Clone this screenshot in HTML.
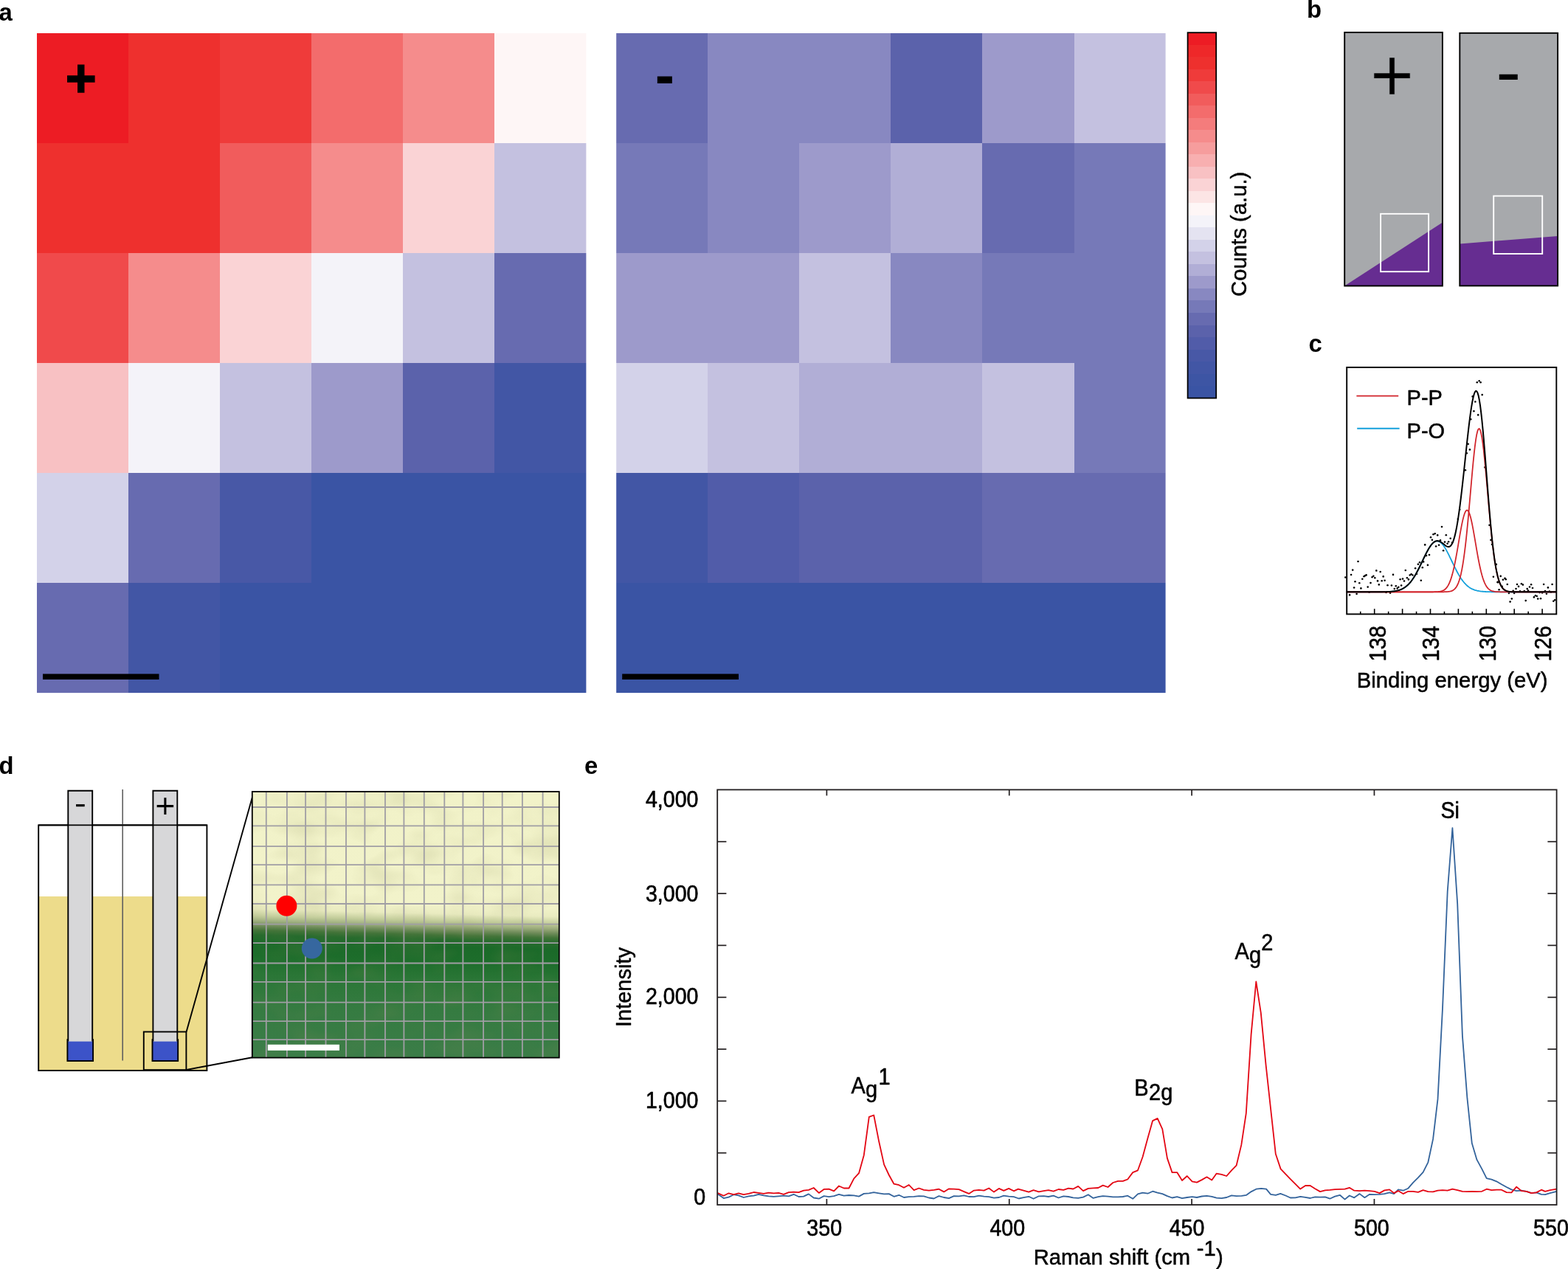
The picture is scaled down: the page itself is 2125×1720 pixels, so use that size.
<!DOCTYPE html>
<html lang="en">
<head>
<meta charset="utf-8">
<title>Figure</title>
<style>
html,body{margin:0;padding:0;background:#fff;}
body{width:2125px;height:1720px;overflow:hidden;font-family:"Liberation Sans", sans-serif;}
svg{display:block;}
text{white-space:pre;}
</style>
</head>
<body>
<svg width="2125" height="1720" viewBox="0 0 2125 1720">
<rect x="0" y="0" width="2125" height="1720" fill="#fff"/>
<g shape-rendering="crispEdges">
<rect x="50.00" y="44.80" width="124.67" height="149.65" fill="#ED1C24"/>
<rect x="174.07" y="44.80" width="124.67" height="149.65" fill="#EE302E"/>
<rect x="298.13" y="44.80" width="124.67" height="149.65" fill="#EF3B3A"/>
<rect x="422.20" y="44.80" width="124.67" height="149.65" fill="#F36C6C"/>
<rect x="546.27" y="44.80" width="124.67" height="149.65" fill="#F58C8C"/>
<rect x="670.33" y="44.80" width="124.67" height="149.65" fill="#FEF6F6"/>
<rect x="50.00" y="193.85" width="124.67" height="149.65" fill="#EE302E"/>
<rect x="174.07" y="193.85" width="124.67" height="149.65" fill="#EE302E"/>
<rect x="298.13" y="193.85" width="124.67" height="149.65" fill="#F15C5C"/>
<rect x="422.20" y="193.85" width="124.67" height="149.65" fill="#F58C8C"/>
<rect x="546.27" y="193.85" width="124.67" height="149.65" fill="#FAD3D5"/>
<rect x="670.33" y="193.85" width="124.67" height="149.65" fill="#C4C1E0"/>
<rect x="50.00" y="342.90" width="124.67" height="149.65" fill="#F04A4B"/>
<rect x="174.07" y="342.90" width="124.67" height="149.65" fill="#F58C8C"/>
<rect x="298.13" y="342.90" width="124.67" height="149.65" fill="#FAD3D5"/>
<rect x="422.20" y="342.90" width="124.67" height="149.65" fill="#F4F3F9"/>
<rect x="546.27" y="342.90" width="124.67" height="149.65" fill="#C4C1E0"/>
<rect x="670.33" y="342.90" width="124.67" height="149.65" fill="#676BB0"/>
<rect x="50.00" y="491.95" width="124.67" height="149.65" fill="#F8C1C3"/>
<rect x="174.07" y="491.95" width="124.67" height="149.65" fill="#F4F3F9"/>
<rect x="298.13" y="491.95" width="124.67" height="149.65" fill="#C4C1E0"/>
<rect x="422.20" y="491.95" width="124.67" height="149.65" fill="#9D9ACB"/>
<rect x="546.27" y="491.95" width="124.67" height="149.65" fill="#5B62AB"/>
<rect x="670.33" y="491.95" width="124.67" height="149.65" fill="#4256A5"/>
<rect x="50.00" y="641.00" width="124.67" height="149.65" fill="#D3D2E9"/>
<rect x="174.07" y="641.00" width="124.67" height="149.65" fill="#676BB0"/>
<rect x="298.13" y="641.00" width="124.67" height="149.65" fill="#4858A6"/>
<rect x="422.20" y="641.00" width="124.67" height="149.65" fill="#3A54A4"/>
<rect x="546.27" y="641.00" width="124.67" height="149.65" fill="#3A54A4"/>
<rect x="670.33" y="641.00" width="124.67" height="149.65" fill="#3A54A4"/>
<rect x="50.00" y="790.05" width="124.67" height="149.65" fill="#676BB0"/>
<rect x="174.07" y="790.05" width="124.67" height="149.65" fill="#4256A5"/>
<rect x="298.13" y="790.05" width="124.67" height="149.65" fill="#3A54A4"/>
<rect x="422.20" y="790.05" width="124.67" height="149.65" fill="#3A54A4"/>
<rect x="546.27" y="790.05" width="124.67" height="149.65" fill="#3A54A4"/>
<rect x="670.33" y="790.05" width="124.67" height="149.65" fill="#3A54A4"/>
</g>
<g shape-rendering="crispEdges">
<rect x="835.20" y="44.80" width="124.67" height="149.65" fill="#676BB0"/>
<rect x="959.27" y="44.80" width="124.67" height="149.65" fill="#8888C1"/>
<rect x="1083.33" y="44.80" width="124.67" height="149.65" fill="#8888C1"/>
<rect x="1207.40" y="44.80" width="124.67" height="149.65" fill="#5B62AB"/>
<rect x="1331.47" y="44.80" width="124.67" height="149.65" fill="#9D9ACB"/>
<rect x="1455.53" y="44.80" width="124.67" height="149.65" fill="#C4C1E0"/>
<rect x="835.20" y="193.85" width="124.67" height="149.65" fill="#7679B8"/>
<rect x="959.27" y="193.85" width="124.67" height="149.65" fill="#8888C1"/>
<rect x="1083.33" y="193.85" width="124.67" height="149.65" fill="#9D9ACB"/>
<rect x="1207.40" y="193.85" width="124.67" height="149.65" fill="#B1AED6"/>
<rect x="1331.47" y="193.85" width="124.67" height="149.65" fill="#676BB0"/>
<rect x="1455.53" y="193.85" width="124.67" height="149.65" fill="#7679B8"/>
<rect x="835.20" y="342.90" width="124.67" height="149.65" fill="#9D9ACB"/>
<rect x="959.27" y="342.90" width="124.67" height="149.65" fill="#9D9ACB"/>
<rect x="1083.33" y="342.90" width="124.67" height="149.65" fill="#C4C1E0"/>
<rect x="1207.40" y="342.90" width="124.67" height="149.65" fill="#8888C1"/>
<rect x="1331.47" y="342.90" width="124.67" height="149.65" fill="#7679B8"/>
<rect x="1455.53" y="342.90" width="124.67" height="149.65" fill="#7679B8"/>
<rect x="835.20" y="491.95" width="124.67" height="149.65" fill="#D3D2E9"/>
<rect x="959.27" y="491.95" width="124.67" height="149.65" fill="#C4C1E0"/>
<rect x="1083.33" y="491.95" width="124.67" height="149.65" fill="#B1AED6"/>
<rect x="1207.40" y="491.95" width="124.67" height="149.65" fill="#B1AED6"/>
<rect x="1331.47" y="491.95" width="124.67" height="149.65" fill="#C4C1E0"/>
<rect x="1455.53" y="491.95" width="124.67" height="149.65" fill="#7679B8"/>
<rect x="835.20" y="641.00" width="124.67" height="149.65" fill="#4256A5"/>
<rect x="959.27" y="641.00" width="124.67" height="149.65" fill="#515CA9"/>
<rect x="1083.33" y="641.00" width="124.67" height="149.65" fill="#5B62AB"/>
<rect x="1207.40" y="641.00" width="124.67" height="149.65" fill="#5B62AB"/>
<rect x="1331.47" y="641.00" width="124.67" height="149.65" fill="#676BB0"/>
<rect x="1455.53" y="641.00" width="124.67" height="149.65" fill="#676BB0"/>
<rect x="835.20" y="790.05" width="124.67" height="149.65" fill="#3A54A4"/>
<rect x="959.27" y="790.05" width="124.67" height="149.65" fill="#3A54A4"/>
<rect x="1083.33" y="790.05" width="124.67" height="149.65" fill="#3A54A4"/>
<rect x="1207.40" y="790.05" width="124.67" height="149.65" fill="#3A54A4"/>
<rect x="1331.47" y="790.05" width="124.67" height="149.65" fill="#3A54A4"/>
<rect x="1455.53" y="790.05" width="124.67" height="149.65" fill="#3A54A4"/>
</g>
<rect x="794.4" y="40" width="40.8" height="905" fill="#fff"/>
<rect x="1579.6" y="40" width="28" height="905" fill="#fff"/>
<rect x="40" y="939.1" width="1560" height="8" fill="#fff"/>
<rect x="58.0" y="913.4" width="157.5" height="7.6" fill="#000"/>
<rect x="843.2" y="913.4" width="157.8" height="7.6" fill="#000"/>
<text x="109.7" y="131.2" font-family='"Liberation Sans", sans-serif' font-weight="bold" font-size="72" text-anchor="middle" fill="#000" stroke="#000" stroke-width="1.5">+</text>
<text x="901.0" y="128.6" font-family='"Liberation Sans", sans-serif' font-weight="bold" font-size="79" text-anchor="middle" fill="#000">-</text>
<g shape-rendering="crispEdges">
<rect x="1609.6" y="44.20" width="38.60" height="17.11" fill="#ED1C24"/>
<rect x="1609.6" y="60.71" width="38.60" height="17.11" fill="#EE2829"/>
<rect x="1609.6" y="77.23" width="38.60" height="17.11" fill="#EE302E"/>
<rect x="1609.6" y="93.74" width="38.60" height="17.11" fill="#EF3B3A"/>
<rect x="1609.6" y="110.25" width="38.60" height="17.11" fill="#F04A4B"/>
<rect x="1609.6" y="126.77" width="38.60" height="17.11" fill="#F15C5C"/>
<rect x="1609.6" y="143.28" width="38.60" height="17.11" fill="#F36C6C"/>
<rect x="1609.6" y="159.79" width="38.60" height="17.11" fill="#F47C7C"/>
<rect x="1609.6" y="176.31" width="38.60" height="17.11" fill="#F58C8C"/>
<rect x="1609.6" y="192.82" width="38.60" height="17.11" fill="#F69D9D"/>
<rect x="1609.6" y="209.33" width="38.60" height="17.11" fill="#F8AFB0"/>
<rect x="1609.6" y="225.85" width="38.60" height="17.11" fill="#F8C1C3"/>
<rect x="1609.6" y="242.36" width="38.60" height="17.11" fill="#FAD3D5"/>
<rect x="1609.6" y="258.87" width="38.60" height="17.11" fill="#FCE5E5"/>
<rect x="1609.6" y="275.39" width="38.60" height="17.11" fill="#FEF6F6"/>
<rect x="1609.6" y="291.90" width="38.60" height="17.11" fill="#F4F3F9"/>
<rect x="1609.6" y="308.41" width="38.60" height="17.11" fill="#E4E3F1"/>
<rect x="1609.6" y="324.93" width="38.60" height="17.11" fill="#D3D2E9"/>
<rect x="1609.6" y="341.44" width="38.60" height="17.11" fill="#C4C1E0"/>
<rect x="1609.6" y="357.95" width="38.60" height="17.11" fill="#B1AED6"/>
<rect x="1609.6" y="374.47" width="38.60" height="17.11" fill="#9D9ACB"/>
<rect x="1609.6" y="390.98" width="38.60" height="17.11" fill="#8888C1"/>
<rect x="1609.6" y="407.49" width="38.60" height="17.11" fill="#7679B8"/>
<rect x="1609.6" y="424.01" width="38.60" height="17.11" fill="#676BB0"/>
<rect x="1609.6" y="440.52" width="38.60" height="17.11" fill="#5B62AB"/>
<rect x="1609.6" y="457.03" width="38.60" height="17.11" fill="#515CA9"/>
<rect x="1609.6" y="473.55" width="38.60" height="17.11" fill="#4858A6"/>
<rect x="1609.6" y="490.06" width="38.60" height="17.11" fill="#4256A5"/>
<rect x="1609.6" y="506.57" width="38.60" height="17.11" fill="#3D55A4"/>
<rect x="1609.6" y="523.09" width="38.60" height="17.11" fill="#3A54A4"/>
</g>
<rect x="1609.6" y="44.2" width="38.60" height="495.40" fill="none" stroke="#000" stroke-width="1.8"/>
<text transform="translate(1688.9,317.3) rotate(-90) scale(1.0,1.0)" font-family='"Liberation Sans", sans-serif' font-size="29.3" text-anchor="middle" fill="#000" stroke="#000" stroke-width="0.5" stroke-linejoin="round">Counts (a.u.)</text>
<text x="-1.4" y="27.6" font-family='"Liberation Sans", sans-serif' font-weight="bold" font-size="32.8" fill="#000">a</text>
<text x="1771.0" y="24.2" font-family='"Liberation Sans", sans-serif' font-weight="bold" font-size="32.8" fill="#000">b</text>
<text x="1773.5" y="476.5" font-family='"Liberation Sans", sans-serif' font-weight="bold" font-size="32.8" fill="#000">c</text>
<text x="-1.4" y="1049.0" font-family='"Liberation Sans", sans-serif' font-weight="bold" font-size="32.8" fill="#000">d</text>
<text x="792.0" y="1049.0" font-family='"Liberation Sans", sans-serif' font-weight="bold" font-size="32.8" fill="#000">e</text>
<rect x="1822.2" y="43.9" width="132.7" height="343.6" fill="#A7A9AC"/>
<polygon points="1822.2,387.5 1954.9,301.4 1954.9,387.5" fill="#662D91"/>
<rect x="1822.2" y="43.9" width="132.7" height="343.6" fill="none" stroke="#000" stroke-width="1.9"/>
<rect x="1871.1" y="289.8" width="65.0" height="78.4" fill="none" stroke="#fff" stroke-width="1.9"/>
<rect x="1978.3" y="44.8" width="132.8" height="342.6" fill="#A7A9AC"/>
<polygon points="1978.3,330.5 2111.1,319.9 2111.1,387.4 1978.3,387.4" fill="#662D91"/>
<rect x="1978.3" y="44.8" width="132.8" height="342.6" fill="none" stroke="#000" stroke-width="1.9"/>
<rect x="2024.2" y="265.6" width="66.0" height="78.4" fill="none" stroke="#fff" stroke-width="1.9"/>
<text x="1886.6" y="137.4" font-family='"Liberation Sans", sans-serif' font-size="101.2" text-anchor="middle" fill="#000" stroke="#A7A9AC" stroke-width="0.7" stroke-linejoin="miter">+</text>
<text transform="translate(2044.2,128.6) scale(1.1,1)" x="0" y="0" font-family='"Liberation Sans", sans-serif' font-size="93" text-anchor="middle" fill="#000">-</text>
<line x1="2090.10" y1="832.4" x2="2090.10" y2="825.1999999999999" stroke="#000" stroke-width="1.6"/>
<line x1="2071.15" y1="832.4" x2="2071.15" y2="828.8" stroke="#000" stroke-width="1.6"/>
<line x1="2052.20" y1="832.4" x2="2052.20" y2="825.1999999999999" stroke="#000" stroke-width="1.6"/>
<line x1="2033.25" y1="832.4" x2="2033.25" y2="828.8" stroke="#000" stroke-width="1.6"/>
<line x1="2014.30" y1="832.4" x2="2014.30" y2="825.1999999999999" stroke="#000" stroke-width="1.6"/>
<line x1="1995.35" y1="832.4" x2="1995.35" y2="828.8" stroke="#000" stroke-width="1.6"/>
<line x1="1976.40" y1="832.4" x2="1976.40" y2="825.1999999999999" stroke="#000" stroke-width="1.6"/>
<line x1="1957.45" y1="832.4" x2="1957.45" y2="828.8" stroke="#000" stroke-width="1.6"/>
<line x1="1938.50" y1="832.4" x2="1938.50" y2="825.1999999999999" stroke="#000" stroke-width="1.6"/>
<line x1="1919.55" y1="832.4" x2="1919.55" y2="828.8" stroke="#000" stroke-width="1.6"/>
<line x1="1900.60" y1="832.4" x2="1900.60" y2="825.1999999999999" stroke="#000" stroke-width="1.6"/>
<line x1="1881.65" y1="832.4" x2="1881.65" y2="828.8" stroke="#000" stroke-width="1.6"/>
<line x1="1862.70" y1="832.4" x2="1862.70" y2="825.1999999999999" stroke="#000" stroke-width="1.6"/>
<line x1="1843.75" y1="832.4" x2="1843.75" y2="828.8" stroke="#000" stroke-width="1.6"/>
<g fill="#000">
<circle cx="1823.3" cy="782.5" r="1.3"/>
<circle cx="1829.1" cy="806.4" r="1.3"/>
<circle cx="1831.1" cy="779.0" r="1.3"/>
<circle cx="1833.2" cy="772.6" r="1.3"/>
<circle cx="1835.1" cy="796.5" r="1.3"/>
<circle cx="1836.5" cy="788.3" r="1.3"/>
<circle cx="1838.6" cy="804.9" r="1.3"/>
<circle cx="1840.5" cy="761.0" r="1.3"/>
<circle cx="1842.3" cy="790.3" r="1.3"/>
<circle cx="1844.4" cy="797.4" r="1.3"/>
<circle cx="1846.3" cy="784.8" r="1.3"/>
<circle cx="1848.5" cy="781.2" r="1.3"/>
<circle cx="1850.0" cy="780.2" r="1.3"/>
<circle cx="1851.6" cy="779.4" r="1.3"/>
<circle cx="1853.7" cy="795.6" r="1.3"/>
<circle cx="1855.6" cy="802.7" r="1.3"/>
<circle cx="1857.5" cy="790.1" r="1.3"/>
<circle cx="1859.6" cy="782.2" r="1.3"/>
<circle cx="1861.3" cy="780.7" r="1.3"/>
<circle cx="1863.3" cy="783.2" r="1.3"/>
<circle cx="1865.3" cy="773.4" r="1.3"/>
<circle cx="1867.0" cy="787.4" r="1.3"/>
<circle cx="1868.8" cy="792.4" r="1.3"/>
<circle cx="1870.7" cy="775.0" r="1.3"/>
<circle cx="1872.7" cy="787.3" r="1.3"/>
<circle cx="1874.7" cy="781.4" r="1.3"/>
<circle cx="1876.6" cy="786.7" r="1.3"/>
<circle cx="1878.6" cy="803.0" r="1.3"/>
<circle cx="1880.5" cy="793.2" r="1.3"/>
<circle cx="1884.1" cy="803.8" r="1.3"/>
<circle cx="1885.9" cy="793.5" r="1.3"/>
<circle cx="1888.0" cy="778.9" r="1.3"/>
<circle cx="1889.8" cy="798.1" r="1.3"/>
<circle cx="1891.8" cy="794.3" r="1.3"/>
<circle cx="1893.7" cy="797.4" r="1.3"/>
<circle cx="1895.3" cy="795.8" r="1.3"/>
<circle cx="1897.6" cy="785.2" r="1.3"/>
<circle cx="1899.1" cy="793.5" r="1.3"/>
<circle cx="1901.0" cy="784.6" r="1.3"/>
<circle cx="1903.0" cy="787.5" r="1.3"/>
<circle cx="1904.8" cy="773.0" r="1.3"/>
<circle cx="1906.9" cy="783.2" r="1.3"/>
<circle cx="1908.9" cy="785.4" r="1.3"/>
<circle cx="1910.7" cy="779.5" r="1.3"/>
<circle cx="1912.6" cy="778.3" r="1.3"/>
<circle cx="1914.4" cy="779.5" r="1.3"/>
<circle cx="1918.1" cy="770.2" r="1.3"/>
<circle cx="1919.9" cy="777.9" r="1.3"/>
<circle cx="1921.9" cy="764.7" r="1.3"/>
<circle cx="1924.0" cy="762.3" r="1.3"/>
<circle cx="1925.8" cy="786.7" r="1.3"/>
<circle cx="1927.8" cy="769.2" r="1.3"/>
<circle cx="1929.1" cy="761.4" r="1.3"/>
<circle cx="1931.2" cy="738.4" r="1.3"/>
<circle cx="1933.0" cy="753.1" r="1.3"/>
<circle cx="1934.9" cy="765.9" r="1.3"/>
<circle cx="1937.0" cy="752.1" r="1.3"/>
<circle cx="1939.0" cy="728.3" r="1.3"/>
<circle cx="1940.9" cy="731.8" r="1.3"/>
<circle cx="1942.5" cy="724.2" r="1.3"/>
<circle cx="1944.7" cy="723.2" r="1.3"/>
<circle cx="1946.1" cy="740.5" r="1.3"/>
<circle cx="1948.2" cy="725.4" r="1.3"/>
<circle cx="1950.1" cy="738.7" r="1.3"/>
<circle cx="1952.0" cy="732.3" r="1.3"/>
<circle cx="1954.0" cy="714.0" r="1.3"/>
<circle cx="1956.1" cy="746.2" r="1.3"/>
<circle cx="1958.0" cy="734.6" r="1.3"/>
<circle cx="1959.8" cy="725.2" r="1.3"/>
<circle cx="1961.6" cy="736.8" r="1.3"/>
<circle cx="1963.1" cy="734.2" r="1.3"/>
<circle cx="1965.7" cy="729.8" r="1.3"/>
<circle cx="1968.2" cy="735.2" r="1.3"/>
<circle cx="1975.9" cy="703.5" r="1.3"/>
<circle cx="1978.2" cy="690.6" r="1.3"/>
<circle cx="1985.9" cy="637.3" r="1.3"/>
<circle cx="1987.8" cy="614.2" r="1.3"/>
<circle cx="1989.7" cy="601.7" r="1.3"/>
<circle cx="1991.9" cy="609.4" r="1.3"/>
<circle cx="1993.2" cy="568.2" r="1.3"/>
<circle cx="1995.7" cy="537.4" r="1.3"/>
<circle cx="1997.4" cy="557.2" r="1.3"/>
<circle cx="1999.3" cy="544.5" r="1.3"/>
<circle cx="2001.8" cy="518.2" r="1.3"/>
<circle cx="2003.2" cy="562.4" r="1.3"/>
<circle cx="2004.7" cy="516.3" r="1.3"/>
<circle cx="2006.6" cy="518.2" r="1.3"/>
<circle cx="2008.7" cy="535.1" r="1.3"/>
<circle cx="2012.4" cy="633.4" r="1.3"/>
<circle cx="2018.5" cy="711.7" r="1.3"/>
<circle cx="2020.5" cy="731.9" r="1.3"/>
<circle cx="2022.0" cy="738.0" r="1.3"/>
<circle cx="2023.9" cy="781.8" r="1.3"/>
<circle cx="2027.8" cy="764.9" r="1.3"/>
<circle cx="2029.7" cy="788.9" r="1.3"/>
<circle cx="2029.8" cy="789.3" r="1.3"/>
<circle cx="2031.6" cy="799.3" r="1.3"/>
<circle cx="2033.7" cy="780.9" r="1.3"/>
<circle cx="2035.7" cy="794.9" r="1.3"/>
<circle cx="2036.9" cy="785.8" r="1.3"/>
<circle cx="2039.5" cy="783.9" r="1.3"/>
<circle cx="2040.8" cy="785.2" r="1.3"/>
<circle cx="2042.8" cy="792.0" r="1.3"/>
<circle cx="2044.9" cy="804.0" r="1.3"/>
<circle cx="2046.6" cy="815.6" r="1.3"/>
<circle cx="2048.8" cy="811.5" r="1.3"/>
<circle cx="2050.7" cy="800.8" r="1.3"/>
<circle cx="2052.1" cy="804.0" r="1.3"/>
<circle cx="2054.5" cy="798.0" r="1.3"/>
<circle cx="2056.0" cy="792.0" r="1.3"/>
<circle cx="2058.0" cy="794.9" r="1.3"/>
<circle cx="2060.0" cy="801.3" r="1.3"/>
<circle cx="2061.9" cy="791.2" r="1.3"/>
<circle cx="2063.9" cy="792.6" r="1.3"/>
<circle cx="2065.8" cy="801.0" r="1.3"/>
<circle cx="2067.7" cy="814.1" r="1.3"/>
<circle cx="2069.7" cy="798.1" r="1.3"/>
<circle cx="2071.0" cy="800.5" r="1.3"/>
<circle cx="2073.0" cy="795.5" r="1.3"/>
<circle cx="2075.1" cy="792.3" r="1.3"/>
<circle cx="2077.0" cy="797.0" r="1.3"/>
<circle cx="2078.9" cy="809.4" r="1.3"/>
<circle cx="2080.9" cy="807.2" r="1.3"/>
<circle cx="2082.8" cy="808.0" r="1.3"/>
<circle cx="2084.2" cy="811.6" r="1.3"/>
<circle cx="2086.6" cy="803.1" r="1.3"/>
<circle cx="2088.0" cy="811.2" r="1.3"/>
<circle cx="2090.1" cy="803.4" r="1.3"/>
<circle cx="2092.1" cy="792.0" r="1.3"/>
<circle cx="2094.0" cy="801.0" r="1.3"/>
<circle cx="2095.9" cy="804.7" r="1.3"/>
<circle cx="2097.9" cy="796.4" r="1.3"/>
<circle cx="2099.9" cy="801.6" r="1.3"/>
<circle cx="2101.9" cy="802.5" r="1.3"/>
<circle cx="2103.6" cy="792.0" r="1.3"/>
<circle cx="2105.3" cy="814.7" r="1.3"/>
<circle cx="2107.2" cy="813.3" r="1.3"/>
</g>
<path d="M1824.80,802.30 L1825.98,802.30 L1827.17,802.30 L1828.35,802.30 L1829.54,802.30 L1830.72,802.30 L1831.91,802.30 L1833.09,802.30 L1834.28,802.30 L1835.46,802.30 L1836.64,802.30 L1837.83,802.30 L1839.01,802.30 L1840.20,802.30 L1841.38,802.30 L1842.57,802.30 L1843.75,802.30 L1844.93,802.30 L1846.12,802.30 L1847.30,802.30 L1848.49,802.30 L1849.67,802.30 L1850.86,802.30 L1852.04,802.30 L1853.23,802.30 L1854.41,802.30 L1855.59,802.30 L1856.78,802.30 L1857.96,802.30 L1859.15,802.30 L1860.33,802.30 L1861.52,802.29 L1862.70,802.29 L1863.88,802.29 L1865.07,802.29 L1866.25,802.28 L1867.44,802.28 L1868.62,802.27 L1869.81,802.27 L1870.99,802.26 L1872.17,802.25 L1873.36,802.23 L1874.54,802.22 L1875.73,802.20 L1876.91,802.17 L1878.10,802.15 L1879.28,802.11 L1880.47,802.07 L1881.65,802.02 L1882.83,801.95 L1884.02,801.88 L1885.20,801.79 L1886.39,801.69 L1887.57,801.57 L1888.76,801.43 L1889.94,801.26 L1891.12,801.07 L1892.31,800.85 L1893.49,800.59 L1894.68,800.29 L1895.86,799.95 L1897.05,799.56 L1898.23,799.12 L1899.42,798.62 L1900.60,798.06 L1901.78,797.43 L1902.97,796.72 L1904.15,795.94 L1905.34,795.07 L1906.52,794.11 L1907.71,793.05 L1908.89,791.90 L1910.08,790.64 L1911.26,789.28 L1912.44,787.81 L1913.63,786.23 L1914.81,784.54 L1916.00,782.75 L1917.18,780.85 L1918.37,778.85 L1919.55,776.75 L1920.73,774.56 L1921.92,772.29 L1923.10,769.95 L1924.29,767.56 L1925.47,765.11 L1926.66,762.64 L1927.84,760.15 L1929.03,757.66 L1930.21,755.20 L1931.39,752.77 L1932.58,750.40 L1933.76,748.11 L1934.95,745.92 L1936.13,743.85 L1937.32,741.92 L1938.50,740.15 L1939.68,738.54 L1940.87,737.13 L1942.05,735.93 L1943.24,734.94 L1944.42,734.17 L1945.61,733.64 L1946.79,733.36 L1947.98,733.31 L1949.16,733.51 L1950.34,733.95 L1951.53,734.63 L1952.71,735.54 L1953.90,736.67 L1955.08,738.01 L1956.27,739.55 L1957.45,741.26 L1958.63,743.14 L1959.82,745.16 L1961.00,747.31 L1962.19,749.57 L1963.37,751.91 L1964.56,754.32 L1965.74,756.77 L1966.92,759.25 L1968.11,761.74 L1969.29,764.23 L1970.48,766.68 L1971.66,769.10 L1972.85,771.46 L1974.03,773.75 L1975.22,775.97 L1976.40,778.10 L1977.58,780.14 L1978.77,782.08 L1979.95,783.91 L1981.14,785.64 L1982.32,787.25 L1983.51,788.76 L1984.69,790.16 L1985.88,791.46 L1987.06,792.65 L1988.24,793.74 L1989.43,794.73 L1990.61,795.63 L1991.80,796.45 L1992.98,797.18 L1994.17,797.84 L1995.35,798.43 L1996.53,798.95 L1997.72,799.41 L1998.90,799.82 L2000.09,800.17 L2001.27,800.49 L2002.46,800.76 L2003.64,800.99 L2004.83,801.20 L2006.01,801.37 L2007.19,801.52 L2008.38,801.65 L2009.56,801.76 L2010.75,801.85 L2011.93,801.93 L2013.12,801.99 L2014.30,802.05 L2015.48,802.10 L2016.67,802.13 L2017.85,802.16 L2019.04,802.19 L2020.22,802.21 L2021.41,802.23 L2022.59,802.24 L2023.78,802.25 L2024.96,802.26 L2026.14,802.27 L2027.33,802.28 L2028.51,802.28 L2029.70,802.29 L2030.88,802.29 L2032.07,802.29 L2033.25,802.29 L2034.43,802.29 L2035.62,802.30 L2036.80,802.30 L2037.99,802.30 L2039.17,802.30 L2040.36,802.30 L2041.54,802.30 L2042.73,802.30 L2043.91,802.30 L2045.09,802.30 L2046.28,802.30 L2047.46,802.30 L2048.65,802.30 L2049.83,802.30 L2051.02,802.30 L2052.20,802.30 L2053.38,802.30 L2054.57,802.30 L2055.75,802.30 L2056.94,802.30 L2058.12,802.30 L2059.31,802.30 L2060.49,802.30 L2061.68,802.30 L2062.86,802.30 L2064.04,802.30 L2065.23,802.30 L2066.41,802.30 L2067.60,802.30 L2068.78,802.30 L2069.97,802.30 L2071.15,802.30 L2072.33,802.30 L2073.52,802.30 L2074.70,802.30 L2075.89,802.30 L2077.07,802.30 L2078.26,802.30 L2079.44,802.30 L2080.62,802.30 L2081.81,802.30 L2082.99,802.30 L2084.18,802.30 L2085.36,802.30 L2086.55,802.30 L2087.73,802.30 L2088.92,802.30 L2090.10,802.30 L2091.28,802.30 L2092.47,802.30 L2093.65,802.30 L2094.84,802.30 L2096.02,802.30 L2097.21,802.30 L2098.39,802.30 L2099.57,802.30 L2100.76,802.30 L2101.94,802.30 L2103.13,802.30 L2104.31,802.30 L2105.50,802.30 L2106.68,802.30 L2107.87,802.30 L2109.05,802.30" fill="none" stroke="#14A0DB" stroke-width="1.8"/>
<path d="M1824.80,802.30 L1825.98,802.30 L1827.17,802.30 L1828.35,802.30 L1829.54,802.30 L1830.72,802.30 L1831.91,802.30 L1833.09,802.30 L1834.28,802.30 L1835.46,802.30 L1836.64,802.30 L1837.83,802.30 L1839.01,802.30 L1840.20,802.30 L1841.38,802.30 L1842.57,802.30 L1843.75,802.30 L1844.93,802.30 L1846.12,802.30 L1847.30,802.30 L1848.49,802.30 L1849.67,802.30 L1850.86,802.30 L1852.04,802.30 L1853.23,802.30 L1854.41,802.30 L1855.59,802.30 L1856.78,802.30 L1857.96,802.30 L1859.15,802.30 L1860.33,802.30 L1861.52,802.30 L1862.70,802.30 L1863.88,802.30 L1865.07,802.30 L1866.25,802.30 L1867.44,802.30 L1868.62,802.30 L1869.81,802.30 L1870.99,802.30 L1872.17,802.30 L1873.36,802.30 L1874.54,802.30 L1875.73,802.30 L1876.91,802.30 L1878.10,802.30 L1879.28,802.30 L1880.47,802.30 L1881.65,802.30 L1882.83,802.30 L1884.02,802.30 L1885.20,802.30 L1886.39,802.30 L1887.57,802.30 L1888.76,802.30 L1889.94,802.30 L1891.12,802.30 L1892.31,802.30 L1893.49,802.30 L1894.68,802.30 L1895.86,802.30 L1897.05,802.30 L1898.23,802.30 L1899.42,802.30 L1900.60,802.30 L1901.78,802.30 L1902.97,802.30 L1904.15,802.30 L1905.34,802.30 L1906.52,802.30 L1907.71,802.30 L1908.89,802.30 L1910.08,802.30 L1911.26,802.30 L1912.44,802.30 L1913.63,802.30 L1914.81,802.30 L1916.00,802.30 L1917.18,802.30 L1918.37,802.30 L1919.55,802.30 L1920.73,802.30 L1921.92,802.30 L1923.10,802.30 L1924.29,802.30 L1925.47,802.30 L1926.66,802.30 L1927.84,802.30 L1929.03,802.30 L1930.21,802.30 L1931.39,802.30 L1932.58,802.30 L1933.76,802.30 L1934.95,802.30 L1936.13,802.30 L1937.32,802.29 L1938.50,802.29 L1939.68,802.29 L1940.87,802.28 L1942.05,802.27 L1943.24,802.25 L1944.42,802.23 L1945.61,802.20 L1946.79,802.15 L1947.98,802.08 L1949.16,801.99 L1950.34,801.86 L1951.53,801.68 L1952.71,801.44 L1953.90,801.11 L1955.08,800.69 L1956.27,800.13 L1957.45,799.41 L1958.63,798.49 L1959.82,797.33 L1961.00,795.89 L1962.19,794.13 L1963.37,791.99 L1964.56,789.43 L1965.74,786.41 L1966.92,782.90 L1968.11,778.86 L1969.29,774.29 L1970.48,769.18 L1971.66,763.58 L1972.85,757.51 L1974.03,751.04 L1975.22,744.28 L1976.40,737.34 L1977.58,730.34 L1978.77,723.46 L1979.95,716.85 L1981.14,710.69 L1982.32,705.14 L1983.51,700.36 L1984.69,696.51 L1985.88,693.69 L1987.06,692.01 L1988.24,691.50 L1989.43,692.20 L1990.61,694.07 L1991.80,697.06 L1992.98,701.07 L1994.17,705.98 L1995.35,711.64 L1996.53,717.88 L1997.72,724.55 L1998.90,731.46 L2000.09,738.45 L2001.27,745.38 L2002.46,752.10 L2003.64,758.50 L2004.83,764.51 L2006.01,770.04 L2007.19,775.05 L2008.38,779.54 L2009.56,783.49 L2010.75,786.93 L2011.93,789.87 L2013.12,792.36 L2014.30,794.43 L2015.48,796.14 L2016.67,797.53 L2017.85,798.65 L2019.04,799.53 L2020.22,800.23 L2021.41,800.76 L2022.59,801.17 L2023.78,801.48 L2024.96,801.71 L2026.14,801.88 L2027.33,802.01 L2028.51,802.10 L2029.70,802.16 L2030.88,802.21 L2032.07,802.24 L2033.25,802.26 L2034.43,802.27 L2035.62,802.28 L2036.80,802.29 L2037.99,802.29 L2039.17,802.30 L2040.36,802.30 L2041.54,802.30 L2042.73,802.30 L2043.91,802.30 L2045.09,802.30 L2046.28,802.30 L2047.46,802.30 L2048.65,802.30 L2049.83,802.30 L2051.02,802.30 L2052.20,802.30 L2053.38,802.30 L2054.57,802.30 L2055.75,802.30 L2056.94,802.30 L2058.12,802.30 L2059.31,802.30 L2060.49,802.30 L2061.68,802.30 L2062.86,802.30 L2064.04,802.30 L2065.23,802.30 L2066.41,802.30 L2067.60,802.30 L2068.78,802.30 L2069.97,802.30 L2071.15,802.30 L2072.33,802.30 L2073.52,802.30 L2074.70,802.30 L2075.89,802.30 L2077.07,802.30 L2078.26,802.30 L2079.44,802.30 L2080.62,802.30 L2081.81,802.30 L2082.99,802.30 L2084.18,802.30 L2085.36,802.30 L2086.55,802.30 L2087.73,802.30 L2088.92,802.30 L2090.10,802.30 L2091.28,802.30 L2092.47,802.30 L2093.65,802.30 L2094.84,802.30 L2096.02,802.30 L2097.21,802.30 L2098.39,802.30 L2099.57,802.30 L2100.76,802.30 L2101.94,802.30 L2103.13,802.30 L2104.31,802.30 L2105.50,802.30 L2106.68,802.30 L2107.87,802.30 L2109.05,802.30" fill="none" stroke="#D1232A" stroke-width="1.75"/>
<path d="M1824.80,802.30 L1825.98,802.30 L1827.17,802.30 L1828.35,802.30 L1829.54,802.30 L1830.72,802.30 L1831.91,802.30 L1833.09,802.30 L1834.28,802.30 L1835.46,802.30 L1836.64,802.30 L1837.83,802.30 L1839.01,802.30 L1840.20,802.30 L1841.38,802.30 L1842.57,802.30 L1843.75,802.30 L1844.93,802.30 L1846.12,802.30 L1847.30,802.30 L1848.49,802.30 L1849.67,802.30 L1850.86,802.30 L1852.04,802.30 L1853.23,802.30 L1854.41,802.30 L1855.59,802.30 L1856.78,802.30 L1857.96,802.30 L1859.15,802.30 L1860.33,802.30 L1861.52,802.30 L1862.70,802.30 L1863.88,802.30 L1865.07,802.30 L1866.25,802.30 L1867.44,802.30 L1868.62,802.30 L1869.81,802.30 L1870.99,802.30 L1872.17,802.30 L1873.36,802.30 L1874.54,802.30 L1875.73,802.30 L1876.91,802.30 L1878.10,802.30 L1879.28,802.30 L1880.47,802.30 L1881.65,802.30 L1882.83,802.30 L1884.02,802.30 L1885.20,802.30 L1886.39,802.30 L1887.57,802.30 L1888.76,802.30 L1889.94,802.30 L1891.12,802.30 L1892.31,802.30 L1893.49,802.30 L1894.68,802.30 L1895.86,802.30 L1897.05,802.30 L1898.23,802.30 L1899.42,802.30 L1900.60,802.30 L1901.78,802.30 L1902.97,802.30 L1904.15,802.30 L1905.34,802.30 L1906.52,802.30 L1907.71,802.30 L1908.89,802.30 L1910.08,802.30 L1911.26,802.30 L1912.44,802.30 L1913.63,802.30 L1914.81,802.30 L1916.00,802.30 L1917.18,802.30 L1918.37,802.30 L1919.55,802.30 L1920.73,802.30 L1921.92,802.30 L1923.10,802.30 L1924.29,802.30 L1925.47,802.30 L1926.66,802.30 L1927.84,802.30 L1929.03,802.30 L1930.21,802.30 L1931.39,802.30 L1932.58,802.30 L1933.76,802.30 L1934.95,802.30 L1936.13,802.30 L1937.32,802.30 L1938.50,802.30 L1939.68,802.30 L1940.87,802.30 L1942.05,802.30 L1943.24,802.30 L1944.42,802.30 L1945.61,802.30 L1946.79,802.30 L1947.98,802.30 L1949.16,802.30 L1950.34,802.30 L1951.53,802.29 L1952.71,802.29 L1953.90,802.28 L1955.08,802.27 L1956.27,802.26 L1957.45,802.23 L1958.63,802.20 L1959.82,802.16 L1961.00,802.09 L1962.19,801.99 L1963.37,801.86 L1964.56,801.67 L1965.74,801.41 L1966.92,801.06 L1968.11,800.59 L1969.29,799.96 L1970.48,799.13 L1971.66,798.06 L1972.85,796.69 L1974.03,794.95 L1975.22,792.77 L1976.40,790.06 L1977.58,786.75 L1978.77,782.75 L1979.95,777.97 L1981.14,772.34 L1982.32,765.77 L1983.51,758.23 L1984.69,749.67 L1985.88,740.10 L1987.06,729.54 L1988.24,718.07 L1989.43,705.78 L1990.61,692.85 L1991.80,679.45 L1992.98,665.83 L1994.17,652.26 L1995.35,639.03 L1996.53,626.47 L1997.72,614.88 L1998.90,604.58 L2000.09,595.85 L2001.27,588.96 L2002.46,584.10 L2003.64,581.43 L2004.83,581.02 L2006.01,582.88 L2007.19,586.97 L2008.38,593.15 L2009.56,601.24 L2010.75,611.00 L2011.93,622.16 L2013.12,634.42 L2014.30,647.44 L2015.48,660.92 L2016.67,674.56 L2017.85,688.07 L2019.04,701.19 L2020.22,713.73 L2021.41,725.51 L2022.59,736.41 L2023.78,746.34 L2024.96,755.27 L2026.14,763.17 L2027.33,770.08 L2028.51,776.05 L2029.70,781.13 L2030.88,785.40 L2032.07,788.95 L2033.25,791.86 L2034.43,794.22 L2035.62,796.11 L2036.80,797.61 L2037.99,798.78 L2039.17,799.69 L2040.36,800.38 L2041.54,800.90 L2042.73,801.29 L2043.91,801.58 L2045.09,801.79 L2046.28,801.95 L2047.46,802.06 L2048.65,802.13 L2049.83,802.19 L2051.02,802.22 L2052.20,802.25 L2053.38,802.27 L2054.57,802.28 L2055.75,802.29 L2056.94,802.29 L2058.12,802.29 L2059.31,802.30 L2060.49,802.30 L2061.68,802.30 L2062.86,802.30 L2064.04,802.30 L2065.23,802.30 L2066.41,802.30 L2067.60,802.30 L2068.78,802.30 L2069.97,802.30 L2071.15,802.30 L2072.33,802.30 L2073.52,802.30 L2074.70,802.30 L2075.89,802.30 L2077.07,802.30 L2078.26,802.30 L2079.44,802.30 L2080.62,802.30 L2081.81,802.30 L2082.99,802.30 L2084.18,802.30 L2085.36,802.30 L2086.55,802.30 L2087.73,802.30 L2088.92,802.30 L2090.10,802.30 L2091.28,802.30 L2092.47,802.30 L2093.65,802.30 L2094.84,802.30 L2096.02,802.30 L2097.21,802.30 L2098.39,802.30 L2099.57,802.30 L2100.76,802.30 L2101.94,802.30 L2103.13,802.30 L2104.31,802.30 L2105.50,802.30 L2106.68,802.30 L2107.87,802.30 L2109.05,802.30" fill="none" stroke="#D1232A" stroke-width="1.75"/>
<path d="M1824.80,802.30 L1825.98,802.30 L1827.17,802.30 L1828.35,802.30 L1829.54,802.30 L1830.72,802.30 L1831.91,802.30 L1833.09,802.30 L1834.28,802.30 L1835.46,802.30 L1836.64,802.30 L1837.83,802.30 L1839.01,802.30 L1840.20,802.30 L1841.38,802.30 L1842.57,802.30 L1843.75,802.30 L1844.93,802.30 L1846.12,802.30 L1847.30,802.30 L1848.49,802.30 L1849.67,802.30 L1850.86,802.30 L1852.04,802.30 L1853.23,802.30 L1854.41,802.30 L1855.59,802.30 L1856.78,802.30 L1857.96,802.30 L1859.15,802.30 L1860.33,802.30 L1861.52,802.29 L1862.70,802.29 L1863.88,802.29 L1865.07,802.29 L1866.25,802.28 L1867.44,802.28 L1868.62,802.27 L1869.81,802.27 L1870.99,802.26 L1872.17,802.25 L1873.36,802.23 L1874.54,802.22 L1875.73,802.20 L1876.91,802.17 L1878.10,802.15 L1879.28,802.11 L1880.47,802.07 L1881.65,802.02 L1882.83,801.95 L1884.02,801.88 L1885.20,801.79 L1886.39,801.69 L1887.57,801.57 L1888.76,801.43 L1889.94,801.26 L1891.12,801.07 L1892.31,800.85 L1893.49,800.59 L1894.68,800.29 L1895.86,799.95 L1897.05,799.56 L1898.23,799.12 L1899.42,798.62 L1900.60,798.06 L1901.78,797.43 L1902.97,796.72 L1904.15,795.94 L1905.34,795.07 L1906.52,794.11 L1907.71,793.05 L1908.89,791.90 L1910.08,790.64 L1911.26,789.28 L1912.44,787.81 L1913.63,786.23 L1914.81,784.54 L1916.00,782.75 L1917.18,780.85 L1918.37,778.85 L1919.55,776.75 L1920.73,774.56 L1921.92,772.29 L1923.10,769.95 L1924.29,767.56 L1925.47,765.11 L1926.66,762.64 L1927.84,760.15 L1929.03,757.66 L1930.21,755.20 L1931.39,752.77 L1932.58,750.40 L1933.76,748.11 L1934.95,745.92 L1936.13,743.85 L1937.32,741.92 L1938.50,740.14 L1939.68,738.53 L1940.87,737.11 L1942.05,735.90 L1943.24,734.89 L1944.42,734.10 L1945.61,733.54 L1946.79,733.21 L1947.98,733.10 L1949.16,733.20 L1950.34,733.51 L1951.53,734.01 L1952.71,734.67 L1953.90,735.47 L1955.08,736.37 L1956.27,737.33 L1957.45,738.30 L1958.63,739.23 L1959.82,740.05 L1961.00,740.69 L1962.19,741.09 L1963.37,741.15 L1964.56,740.81 L1965.74,739.99 L1966.92,738.61 L1968.11,736.59 L1969.29,733.87 L1970.48,730.40 L1971.66,726.14 L1972.85,721.06 L1974.03,715.15 L1975.22,708.42 L1976.40,700.90 L1977.58,692.64 L1978.77,683.69 L1979.95,674.13 L1981.14,664.06 L1982.32,653.56 L1983.51,642.75 L1984.69,631.74 L1985.88,620.65 L1987.06,609.60 L1988.24,598.71 L1989.43,588.11 L1990.61,577.95 L1991.80,568.36 L1992.98,559.48 L1994.17,551.47 L1995.35,544.49 L1996.53,538.70 L1997.72,534.23 L1998.90,531.25 L2000.09,529.88 L2001.27,530.23 L2002.46,532.36 L2003.64,536.33 L2004.83,542.12 L2006.01,549.69 L2007.19,558.95 L2008.38,569.74 L2009.56,581.89 L2010.75,595.18 L2011.93,609.36 L2013.12,624.17 L2014.30,639.32 L2015.48,654.56 L2016.67,669.63 L2017.85,684.28 L2019.04,698.32 L2020.22,711.57 L2021.41,723.90 L2022.59,735.23 L2023.78,745.48 L2024.96,754.64 L2026.14,762.73 L2027.33,769.77 L2028.51,775.83 L2029.70,780.97 L2030.88,785.29 L2032.07,788.88 L2033.25,791.81 L2034.43,794.19 L2035.62,796.09 L2036.80,797.59 L2037.99,798.77 L2039.17,799.68 L2040.36,800.37 L2041.54,800.90 L2042.73,801.29 L2043.91,801.58 L2045.09,801.79 L2046.28,801.95 L2047.46,802.06 L2048.65,802.13 L2049.83,802.19 L2051.02,802.22 L2052.20,802.25 L2053.38,802.27 L2054.57,802.28 L2055.75,802.29 L2056.94,802.29 L2058.12,802.29 L2059.31,802.30 L2060.49,802.30 L2061.68,802.30 L2062.86,802.30 L2064.04,802.30 L2065.23,802.30 L2066.41,802.30 L2067.60,802.30 L2068.78,802.30 L2069.97,802.30 L2071.15,802.30 L2072.33,802.30 L2073.52,802.30 L2074.70,802.30 L2075.89,802.30 L2077.07,802.30 L2078.26,802.30 L2079.44,802.30 L2080.62,802.30 L2081.81,802.30 L2082.99,802.30 L2084.18,802.30 L2085.36,802.30 L2086.55,802.30 L2087.73,802.30 L2088.92,802.30 L2090.10,802.30 L2091.28,802.30 L2092.47,802.30 L2093.65,802.30 L2094.84,802.30 L2096.02,802.30 L2097.21,802.30 L2098.39,802.30 L2099.57,802.30 L2100.76,802.30 L2101.94,802.30 L2103.13,802.30 L2104.31,802.30 L2105.50,802.30 L2106.68,802.30 L2107.87,802.30 L2109.05,802.30" fill="none" stroke="#000" stroke-width="2.0"/>
<rect x="1825.2" y="497.9" width="284.10" height="334.50" fill="none" stroke="#000" stroke-width="1.9"/>
<line x1="1838.4" y1="536.6" x2="1895.2" y2="536.6" stroke="#D1232A" stroke-width="1.9"/>
<line x1="1839.2" y1="580.8" x2="1896.6" y2="580.8" stroke="#14A0DB" stroke-width="1.9"/>
<text transform="translate(1906.6,549.2) scale(1.0,1.035)" font-family='"Liberation Sans", sans-serif' font-size="29.0" text-anchor="start" fill="#000" stroke="#000" stroke-width="0.5" stroke-linejoin="round">P-P</text>
<text transform="translate(1906.6,593.7) scale(1.0,1.035)" font-family='"Liberation Sans", sans-serif' font-size="29.0" text-anchor="start" fill="#000" stroke="#000" stroke-width="0.5" stroke-linejoin="round">P-O</text>
<text transform="translate(1877.9,872.2) rotate(-90) scale(1.0,1.085)" font-family='"Liberation Sans", sans-serif' font-size="29.0" text-anchor="middle" fill="#000" stroke="#000" stroke-width="0.55" stroke-linejoin="round">138</text>
<text transform="translate(1949.8,872.2) rotate(-90) scale(1.0,1.085)" font-family='"Liberation Sans", sans-serif' font-size="29.0" text-anchor="middle" fill="#000" stroke="#000" stroke-width="0.55" stroke-linejoin="round">134</text>
<text transform="translate(2027.0,872.2) rotate(-90) scale(1.0,1.085)" font-family='"Liberation Sans", sans-serif' font-size="29.0" text-anchor="middle" fill="#000" stroke="#000" stroke-width="0.55" stroke-linejoin="round">130</text>
<text transform="translate(2101.5,872.2) rotate(-90) scale(1.0,1.085)" font-family='"Liberation Sans", sans-serif' font-size="29.0" text-anchor="middle" fill="#000" stroke="#000" stroke-width="0.55" stroke-linejoin="round">126</text>
<text transform="translate(1968.1,931.6) scale(1.0,1.0)" font-family='"Liberation Sans", sans-serif' font-size="29.3" text-anchor="middle" fill="#000" stroke="#000" stroke-width="0.5" stroke-linejoin="round">Binding energy (eV)</text>
<rect x="52.2" y="1215" width="228.2" height="236" fill="#EDDC8B"/>
<rect x="52.2" y="1118.4" width="228.2" height="332.6" fill="none" stroke="#000" stroke-width="1.9"/>
<line x1="166.2" y1="1070" x2="166.2" y2="1437.4" stroke="#606060" stroke-width="1.6"/>
<rect x="91.39999999999999" y="1409.2" width="34.7" height="28.8" fill="#3C53C8" stroke="#000" stroke-width="1.9"/>
<rect x="92.3" y="1071.8" width="32.9" height="339.8" fill="#D7D7D9"/>
<path d="M92.3,1411.6 V1071.8 H125.19999999999999 V1411.6" fill="none" stroke="#000" stroke-width="1.9"/>
<rect x="206.5" y="1409.2" width="34.7" height="28.8" fill="#3C53C8" stroke="#000" stroke-width="1.9"/>
<rect x="207.4" y="1071.8" width="32.9" height="339.8" fill="#D7D7D9"/>
<path d="M207.4,1411.6 V1071.8 H240.3 V1411.6" fill="none" stroke="#000" stroke-width="1.9"/>
<line x1="52.2" y1="1118.4" x2="280.4" y2="1118.4" stroke="#000" stroke-width="1.9"/>
<text transform="translate(108.9,1101) scale(1.3,1)" x="0" y="0" font-family='"Liberation Sans", sans-serif' font-size="34" text-anchor="middle" fill="#000" stroke="#000" stroke-width="0.6">-</text>
<text x="223.9" y="1108.0" font-family='"Liberation Sans", sans-serif' font-size="46.6" text-anchor="middle" fill="#000" stroke="#D7D7D9" stroke-width="0.2" stroke-linejoin="miter">+</text>
<rect x="194.8" y="1398.5" width="57.6" height="51.6" fill="none" stroke="#000" stroke-width="1.9"/>
<line x1="252.6" y1="1398.4" x2="341.8" y2="1081" stroke="#000" stroke-width="1.9"/>
<line x1="252.6" y1="1450" x2="341.8" y2="1433.2" stroke="#000" stroke-width="1.9"/>
<defs>
<linearGradient id="mg" gradientUnits="userSpaceOnUse" x1="549.8" y1="1073" x2="540.5" y2="1433.6">
<stop offset="0" stop-color="#F1F2C8"/>
<stop offset="0.42" stop-color="#F2F3CA"/>
<stop offset="0.455" stop-color="#E9EBC0"/>
<stop offset="0.482" stop-color="#C2CC9A"/>
<stop offset="0.500" stop-color="#9FB080"/>
<stop offset="0.518" stop-color="#6F8C5A"/>
<stop offset="0.535" stop-color="#437439"/>
<stop offset="0.553" stop-color="#276B2D"/>
<stop offset="0.58" stop-color="#1B6A29"/>
<stop offset="0.63" stop-color="#1D6D2B"/>
<stop offset="0.70" stop-color="#2A7636"/>
<stop offset="0.82" stop-color="#357B41"/>
<stop offset="1" stop-color="#3B7D48"/>
</linearGradient>
<filter id="mottle" x="0" y="0" width="100%" height="100%" color-interpolation-filters="sRGB">
<feTurbulence type="fractalNoise" baseFrequency="0.018 0.03" numOctaves="2" seed="11" result="n"/>
<feColorMatrix in="n" type="matrix" values="0 0 0 0 0.55  0 0 0 0 0.55  0 0 0 0 0.35  1.1 0 0 0 -0.47"/>
</filter>
</defs>
<rect x="341.8" y="1073.0" width="416.00" height="360.60" fill="url(#mg)"/>
<rect x="341.8" y="1073.0" width="416.00" height="360.60" fill="#000" filter="url(#mottle)" opacity="0.3"/>
<g stroke="#A09EA4" stroke-width="1.8">
<line x1="360.8" y1="1073.0" x2="360.8" y2="1433.6"/>
<line x1="388.9" y1="1073.0" x2="388.9" y2="1433.6"/>
<line x1="414.1" y1="1073.0" x2="414.1" y2="1433.6"/>
<line x1="441.5" y1="1073.0" x2="441.5" y2="1433.6"/>
<line x1="469" y1="1073.0" x2="469" y2="1433.6"/>
<line x1="494.4" y1="1073.0" x2="494.4" y2="1433.6"/>
<line x1="522" y1="1073.0" x2="522" y2="1433.6"/>
<line x1="547.4" y1="1073.0" x2="547.4" y2="1433.6"/>
<line x1="574.8" y1="1073.0" x2="574.8" y2="1433.6"/>
<line x1="602.3" y1="1073.0" x2="602.3" y2="1433.6"/>
<line x1="627.4" y1="1073.0" x2="627.4" y2="1433.6"/>
<line x1="655.1" y1="1073.0" x2="655.1" y2="1433.6"/>
<line x1="680.7" y1="1073.0" x2="680.7" y2="1433.6"/>
<line x1="707.9" y1="1073.0" x2="707.9" y2="1433.6"/>
<line x1="735.6" y1="1073.0" x2="735.6" y2="1433.6"/>
<line x1="341.8" y1="1094" x2="757.8" y2="1094"/>
<line x1="341.8" y1="1119.4" x2="757.8" y2="1119.4"/>
<line x1="341.8" y1="1147.1" x2="757.8" y2="1147.1"/>
<line x1="341.8" y1="1172.2" x2="757.8" y2="1172.2"/>
<line x1="341.8" y1="1199.4" x2="757.8" y2="1199.4"/>
<line x1="341.8" y1="1225" x2="757.8" y2="1225"/>
<line x1="341.8" y1="1252.7" x2="757.8" y2="1252.7"/>
<line x1="341.8" y1="1278.1" x2="757.8" y2="1278.1"/>
<line x1="341.8" y1="1305.5" x2="757.8" y2="1305.5"/>
<line x1="341.8" y1="1330.9" x2="757.8" y2="1330.9"/>
<line x1="341.8" y1="1358.6" x2="757.8" y2="1358.6"/>
<line x1="341.8" y1="1384.2" x2="757.8" y2="1384.2"/>
<line x1="341.8" y1="1409.1" x2="757.8" y2="1409.1"/>
</g>
<rect x="341.8" y="1073.0" width="416.00" height="360.60" fill="none" stroke="#000" stroke-width="1.8"/>
<circle cx="388.4" cy="1227.8" r="14" fill="#FF0000"/>
<circle cx="422.8" cy="1285.6" r="14" fill="#36679F"/>
<rect x="362.8" y="1415.8" width="97.2" height="8" fill="#fff"/>
<path d="M972.2,1617.9 L980.7,1624.1 L987.5,1622.6 L994.3,1619.2 L1001.0,1620.3 L1007.8,1623.0 L1014.6,1621.3 L1021.4,1620.7 L1028.1,1618.8 L1034.9,1620.3 L1041.7,1621.3 L1048.5,1621.8 L1055.2,1621.3 L1062.0,1620.7 L1068.8,1621.3 L1075.6,1618.8 L1082.4,1622.0 L1089.1,1621.6 L1095.9,1618.4 L1102.7,1623.5 L1109.8,1624.7 L1116.6,1621.1 L1123.4,1622.2 L1130.2,1621.1 L1136.9,1618.8 L1143.7,1620.7 L1150.5,1620.0 L1157.3,1620.3 L1164.0,1621.6 L1170.8,1617.9 L1177.8,1617.3 L1184.2,1616.2 L1191.2,1617.3 L1198.1,1618.4 L1204.7,1618.1 L1211.5,1621.8 L1218.3,1619.8 L1225.0,1623.0 L1231.8,1622.2 L1238.6,1621.8 L1245.4,1621.1 L1252.1,1621.3 L1258.9,1623.5 L1265.7,1624.5 L1272.5,1621.1 L1279.2,1623.0 L1286.0,1624.1 L1292.8,1621.1 L1299.6,1621.3 L1306.4,1620.3 L1313.1,1622.0 L1319.9,1622.2 L1326.7,1620.7 L1333.5,1621.6 L1340.2,1622.2 L1347.0,1623.7 L1353.8,1623.0 L1360.3,1620.7 L1367.1,1621.6 L1373.9,1622.2 L1380.7,1624.5 L1387.1,1623.2 L1394.2,1621.8 L1400.6,1624.8 L1407.8,1621.3 L1414.5,1621.1 L1420.9,1622.0 L1427.7,1620.7 L1434.5,1623.5 L1441.3,1621.3 L1448.0,1622.0 L1454.4,1623.3 L1461.2,1623.9 L1468.0,1622.6 L1474.8,1619.2 L1481.6,1623.9 L1488.3,1622.2 L1494.7,1621.1 L1501.5,1621.6 L1508.3,1622.4 L1515.1,1622.4 L1521.8,1622.0 L1528.2,1620.7 L1535.2,1624.8 L1542.0,1618.4 L1548.6,1616.6 L1555.5,1617.7 L1562.1,1614.7 L1568.7,1616.6 L1575.3,1618.1 L1581.9,1621.1 L1588.5,1623.5 L1595.2,1622.2 L1602.0,1624.1 L1608.8,1623.0 L1615.6,1622.2 L1622.0,1623.0 L1628.8,1621.5 L1635.5,1620.9 L1642.3,1621.8 L1648.7,1623.7 L1655.5,1624.1 L1662.3,1623.0 L1669.0,1620.3 L1675.6,1621.1 L1682.6,1620.9 L1689.2,1619.8 L1695.8,1615.1 L1702.4,1611.7 L1709.3,1610.9 L1716.1,1611.7 L1722.1,1618.8 L1728.9,1619.8 L1735.3,1617.9 L1742.3,1620.5 L1748.8,1623.5 L1755.6,1623.3 L1762.3,1621.9 L1769.1,1622.8 L1775.6,1624.0 L1782.3,1622.3 L1789.1,1622.6 L1795.8,1622.3 L1802.3,1624.7 L1809.1,1621.6 L1815.8,1619.8 L1822.6,1625.6 L1828.8,1620.5 L1835.3,1623.3 L1842.6,1618.1 L1849.4,1623.2 L1856.1,1618.8 L1862.8,1619.1 L1869.6,1618.8 L1876.3,1618.1 L1883.1,1616.4 L1889.2,1618.1 L1894.9,1612.4 L1901.6,1613.7 L1908.4,1610.7 L1915.1,1602.9 L1921.9,1596.2 L1928.6,1588.8 L1935.4,1575.3 L1942.1,1543.9 L1948.5,1489.9 L1955.0,1366.8 L1961.7,1208.2 L1968.4,1122.2 L1975.2,1225.1 L1981.9,1403.9 L1988.4,1488.2 L1994.8,1549.6 L2001.5,1571.9 L2008.3,1584.4 L2014.7,1597.2 L2021.4,1598.6 L2028.2,1601.3 L2034.9,1605.3 L2041.7,1609.0 L2048.4,1612.4 L2055.2,1614.1 L2061.9,1613.7 L2068.7,1614.8 L2075.4,1617.1 L2082.1,1616.4 L2088.9,1618.8 L2094.0,1619.1 L2100.7,1617.1 L2109.6,1614.8" fill="none" stroke="#33639B" stroke-width="1.8" stroke-linejoin="round"/>
<path d="M972.2,1616.9 L980.7,1620.7 L987.5,1617.3 L994.3,1619.2 L1001.0,1617.3 L1007.8,1619.2 L1014.6,1617.9 L1021.4,1616.0 L1028.1,1616.9 L1034.9,1617.9 L1041.7,1616.6 L1048.5,1617.3 L1055.2,1616.9 L1062.0,1618.8 L1068.8,1616.2 L1075.6,1615.6 L1082.4,1616.2 L1089.1,1613.6 L1095.9,1612.8 L1102.7,1610.0 L1109.8,1616.9 L1116.6,1611.9 L1123.4,1611.7 L1130.2,1614.3 L1136.9,1607.5 L1143.7,1610.5 L1150.5,1610.5 L1157.3,1597.4 L1164.0,1590.2 L1170.8,1565.7 L1177.8,1513.8 L1184.2,1511.5 L1191.2,1547.3 L1198.1,1578.4 L1204.7,1592.5 L1211.5,1604.7 L1218.3,1606.2 L1225.0,1609.8 L1231.8,1606.0 L1238.6,1613.2 L1245.4,1610.5 L1252.1,1612.8 L1258.9,1613.7 L1265.7,1612.8 L1272.5,1611.7 L1279.2,1615.4 L1286.0,1611.3 L1292.8,1611.7 L1299.6,1612.2 L1306.4,1615.1 L1313.1,1617.9 L1319.9,1613.6 L1326.7,1612.8 L1333.5,1613.6 L1340.2,1610.5 L1347.0,1615.6 L1353.8,1610.9 L1360.3,1613.9 L1367.1,1610.9 L1373.9,1614.3 L1379.9,1611.7 L1387.1,1613.6 L1394.2,1615.6 L1400.6,1613.2 L1407.8,1615.4 L1414.5,1614.1 L1420.9,1613.2 L1427.7,1614.7 L1434.5,1612.0 L1441.3,1612.8 L1448.0,1610.7 L1454.4,1611.5 L1461.2,1607.9 L1468.0,1614.1 L1474.8,1610.9 L1481.6,1610.4 L1488.3,1610.0 L1494.7,1606.6 L1501.5,1609.0 L1508.3,1603.0 L1515.1,1600.8 L1521.8,1600.9 L1528.2,1598.5 L1535.2,1589.1 L1542.0,1586.3 L1548.6,1568.0 L1555.5,1542.6 L1562.1,1519.1 L1568.7,1515.9 L1575.3,1530.4 L1581.9,1569.9 L1588.5,1589.1 L1595.2,1589.1 L1602.0,1600.0 L1608.8,1594.0 L1615.6,1601.3 L1622.0,1602.6 L1628.8,1599.1 L1635.5,1595.3 L1642.3,1599.6 L1648.7,1590.6 L1655.5,1591.9 L1662.3,1594.0 L1669.0,1586.4 L1675.6,1579.7 L1682.3,1551.9 L1688.8,1508.8 L1695.6,1401.9 L1702.3,1330.5 L1708.8,1372.8 L1715.6,1443.7 L1722.1,1503.0 L1728.8,1564.0 L1735.6,1584.4 L1742.3,1591.4 L1748.8,1598.1 L1755.6,1604.9 L1762.3,1611.6 L1769.1,1607.0 L1775.6,1607.0 L1782.3,1611.2 L1789.1,1615.1 L1795.8,1613.3 L1802.3,1612.8 L1809.1,1612.1 L1815.8,1611.9 L1822.6,1611.6 L1828.8,1609.8 L1835.3,1613.7 L1842.6,1614.1 L1849.4,1613.7 L1856.1,1614.1 L1862.8,1614.8 L1869.6,1617.1 L1876.3,1613.4 L1883.1,1612.4 L1889.2,1617.1 L1894.9,1614.1 L1901.6,1618.1 L1908.4,1614.8 L1915.1,1614.8 L1921.9,1615.8 L1928.6,1613.1 L1935.4,1615.1 L1942.1,1615.4 L1948.5,1613.7 L1955.0,1613.1 L1961.7,1613.7 L1968.4,1611.7 L1975.2,1613.1 L1981.9,1614.8 L1988.4,1615.1 L1994.8,1614.8 L2001.5,1615.1 L2008.3,1614.8 L2014.7,1611.7 L2021.4,1613.1 L2028.2,1612.7 L2034.9,1612.7 L2041.7,1616.1 L2048.4,1616.4 L2055.2,1608.7 L2061.9,1614.1 L2068.7,1614.8 L2075.4,1617.1 L2082.1,1616.4 L2088.9,1612.7 L2094.0,1614.8 L2100.7,1613.1 L2109.6,1611.7" fill="none" stroke="#E30613" stroke-width="1.8" stroke-linejoin="round"/>
<g stroke="#231F20" stroke-width="1.7">
<line x1="1120.40" y1="1633.0" x2="1120.40" y2="1625.0"/>
<line x1="1120.40" y1="1070.4" x2="1120.40" y2="1078.4"/>
<line x1="1367.75" y1="1633.0" x2="1367.75" y2="1625.0"/>
<line x1="1367.75" y1="1070.4" x2="1367.75" y2="1078.4"/>
<line x1="1615.10" y1="1633.0" x2="1615.10" y2="1625.0"/>
<line x1="1615.10" y1="1070.4" x2="1615.10" y2="1078.4"/>
<line x1="1862.45" y1="1633.0" x2="1862.45" y2="1625.0"/>
<line x1="1862.45" y1="1070.4" x2="1862.45" y2="1078.4"/>
<line x1="972.2" y1="1562.67" x2="984.4000000000001" y2="1562.67"/>
<line x1="2109.6" y1="1562.67" x2="2097.4" y2="1562.67"/>
<line x1="972.2" y1="1492.35" x2="984.4000000000001" y2="1492.35"/>
<line x1="2109.6" y1="1492.35" x2="2097.4" y2="1492.35"/>
<line x1="972.2" y1="1422.03" x2="984.4000000000001" y2="1422.03"/>
<line x1="2109.6" y1="1422.03" x2="2097.4" y2="1422.03"/>
<line x1="972.2" y1="1351.70" x2="984.4000000000001" y2="1351.70"/>
<line x1="2109.6" y1="1351.70" x2="2097.4" y2="1351.70"/>
<line x1="972.2" y1="1281.38" x2="984.4000000000001" y2="1281.38"/>
<line x1="2109.6" y1="1281.38" x2="2097.4" y2="1281.38"/>
<line x1="972.2" y1="1211.05" x2="984.4000000000001" y2="1211.05"/>
<line x1="2109.6" y1="1211.05" x2="2097.4" y2="1211.05"/>
<line x1="972.2" y1="1140.73" x2="984.4000000000001" y2="1140.73"/>
<line x1="2109.6" y1="1140.73" x2="2097.4" y2="1140.73"/>
</g>
<rect x="972.2" y="1070.4" width="1137.40" height="562.60" fill="none" stroke="#231F20" stroke-width="1.8"/>
<text transform="translate(946.5,1094.2) scale(1.0,1.066)" font-family='"Liberation Sans", sans-serif' font-size="28.6" text-anchor="end" fill="#000" stroke="#000" stroke-width="0.6" stroke-linejoin="round">4,000</text>
<text transform="translate(946.5,1221.6) scale(1.0,1.066)" font-family='"Liberation Sans", sans-serif' font-size="28.6" text-anchor="end" fill="#000" stroke="#000" stroke-width="0.6" stroke-linejoin="round">3,000</text>
<text transform="translate(946.5,1361.2) scale(1.0,1.066)" font-family='"Liberation Sans", sans-serif' font-size="28.6" text-anchor="end" fill="#000" stroke="#000" stroke-width="0.6" stroke-linejoin="round">2,000</text>
<text transform="translate(946.5,1502.0) scale(1.0,1.066)" font-family='"Liberation Sans", sans-serif' font-size="28.6" text-anchor="end" fill="#000" stroke="#000" stroke-width="0.6" stroke-linejoin="round">1,000</text>
<text transform="translate(956.2,1632.5) scale(1.0,1.066)" font-family='"Liberation Sans", sans-serif' font-size="28.6" text-anchor="end" fill="#000" stroke="#000" stroke-width="0.6" stroke-linejoin="round">0</text>
<text transform="translate(1117.2,1675.2) scale(1.0,1.066)" font-family='"Liberation Sans", sans-serif' font-size="28.6" text-anchor="middle" fill="#000" stroke="#000" stroke-width="0.6" stroke-linejoin="round">350</text>
<text transform="translate(1365.3,1675.2) scale(1.0,1.066)" font-family='"Liberation Sans", sans-serif' font-size="28.6" text-anchor="middle" fill="#000" stroke="#000" stroke-width="0.6" stroke-linejoin="round">400</text>
<text transform="translate(1608.5,1675.2) scale(1.0,1.066)" font-family='"Liberation Sans", sans-serif' font-size="28.6" text-anchor="middle" fill="#000" stroke="#000" stroke-width="0.6" stroke-linejoin="round">450</text>
<text transform="translate(1858.9,1675.2) scale(1.0,1.066)" font-family='"Liberation Sans", sans-serif' font-size="28.6" text-anchor="middle" fill="#000" stroke="#000" stroke-width="0.6" stroke-linejoin="round">500</text>
<text transform="translate(2125.8,1675.2) scale(1.0,1.066)" font-family='"Liberation Sans", sans-serif' font-size="28.6" text-anchor="end" fill="#000" stroke="#000" stroke-width="0.6" stroke-linejoin="round">550</text>
<text transform="translate(855.3,1338.0) rotate(-90) scale(1.0,1.0)" font-family='"Liberation Sans", sans-serif' font-size="29.0" text-anchor="middle" fill="#000" stroke="#000" stroke-width="0.5" stroke-linejoin="round">Intensity</text>
<text transform="translate(1400.7,1713.5) scale(1.0,1.0)" font-family='"Liberation Sans", sans-serif' font-size="29.2" text-anchor="start" fill="#000" stroke="#000" stroke-width="0.5" stroke-linejoin="round">Raman shift (cm <tspan dy="-11.9" dx="0.5">-1</tspan><tspan dy="11.9" dx="0.3">)</tspan></text>
<text transform="translate(1153.6,1482.1) scale(1.0,1.05)" font-family='"Liberation Sans", sans-serif' font-size="29.0" text-anchor="start" fill="#000" stroke="#000" stroke-width="0.5" stroke-linejoin="round">A<tspan dy="4.75">g</tspan><tspan dy="-16.6" dx="1.5">1</tspan></text>
<text transform="translate(1537.2,1485.3) scale(1.0,1.05)" font-family='"Liberation Sans", sans-serif' font-size="29.0" text-anchor="start" fill="#000" stroke="#000" stroke-width="0.5" stroke-linejoin="round">B<tspan dy="5.33" dx="0.5">2g</tspan></text>
<text transform="translate(1673.6,1300.0) scale(1.0,1.05)" font-family='"Liberation Sans", sans-serif' font-size="29.0" text-anchor="start" fill="#000" stroke="#000" stroke-width="0.5" stroke-linejoin="round">A<tspan dy="5.1">g</tspan><tspan dy="-16.4" dx="0.2">2</tspan></text>
<text transform="translate(1952.4,1109.0) scale(1.0,1.066)" font-family='"Liberation Sans", sans-serif' font-size="28.6" text-anchor="start" fill="#000" stroke="#000" stroke-width="0.6" stroke-linejoin="round">Si</text>
</svg>
</body>
</html>
